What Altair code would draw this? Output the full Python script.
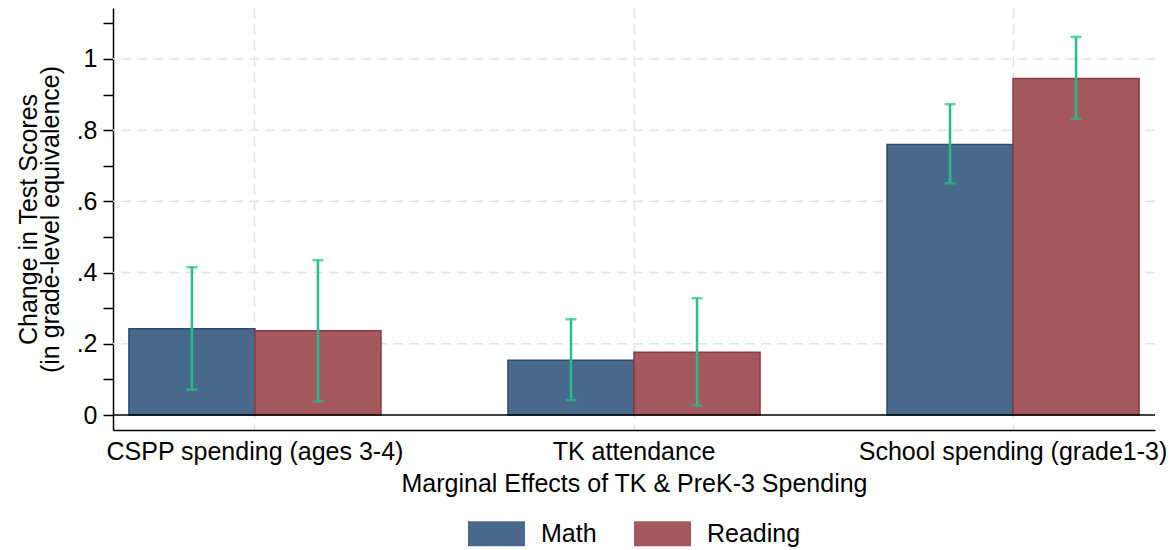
import altair as alt
import pandas as pd

# Marginal effects (grade-level equivalence) with 95% confidence bounds
categories = ["CSPP spending (ages 3-4)", "TK attendance", "School spending (grade1-3)"]
subjects = ["Math", "Reading"]

math_est = [0.242, 0.154, 0.760]
math_lo = [0.071, 0.042, 0.651]
math_hi = [0.415, 0.269, 0.873]

reading_est = [0.237, 0.176, 0.945]
reading_lo = [0.038, 0.027, 0.832]
reading_hi = [0.435, 0.328, 1.062]

grid_values = [0.2, 0.4, 0.6, 0.8, 1.0]
tick_values = [round(i * 0.1, 1) for i in range(12)]

rows = []
for i, cat in enumerate(categories):
    rows.append({"cat": cat, "subject": "Math", "est": math_est[i], "lo": math_lo[i], "hi": math_hi[i]})
    rows.append({"cat": cat, "subject": "Reading", "est": reading_est[i], "lo": reading_lo[i], "hi": reading_hi[i]})
df = pd.DataFrame(rows)
grid_df = pd.DataFrame({"v": grid_values})

FONT = "Liberation Sans"
fill_colors = ["#48698B", "#A3595D"]
edge_colors = ["#2B4C6E", "#8A3B41"]
ci_color = "#22BF8A"

y_scale = alt.Scale(domain=[-0.042, 1.143], nice=False, zero=False)
x_scale = alt.Scale(domain=categories, paddingInner=0.335, paddingOuter=0.042)

x_axis = alt.Axis(
    title="Marginal Effects of TK & PreK-3 Spending",
    labelAngle=0,
    ticks=False,
    grid=True,
)
y_axis = alt.Axis(
    title=["Change in Test Scores", "(in grade-level equivalence)"],
    values=tick_values,
    labelExpr="round(datum.value*10) % 2 == 1 ? '' : (datum.value == 0 ? '0' : (datum.value == 1 ? '1' : replace(format(datum.value, '.1f'), '0.', '.')))",
    grid=False,
)

x_enc = alt.X("cat:N", scale=x_scale, sort=categories, axis=x_axis)
x_off = alt.XOffset("subject:N", sort=subjects)

gridlines = alt.Chart(grid_df).mark_rule(
    color="#E3E3E3", strokeDash=[10, 6], strokeWidth=1.5
).encode(y=alt.Y("v:Q", scale=y_scale, axis=y_axis))

bars = alt.Chart(df).mark_bar(strokeWidth=1.5).encode(
    x=x_enc,
    xOffset=x_off,
    y=alt.Y("est:Q", scale=y_scale, axis=y_axis),
    color=alt.Color(
        "subject:N",
        scale=alt.Scale(domain=subjects, range=fill_colors),
        legend=alt.Legend(
            title=None,
            orient="none",
            direction="horizontal",
            legendX=355,
            legendY=497,
            symbolType="M-1,-0.44H1V0.44H-1Z",
            symbolSize=3249,
            symbolStrokeWidth=0,
            symbolOpacity=1,
            labelOffset=16,
            columnPadding=37,
        ),
    ),
    stroke=alt.Stroke(
        "subject:N", scale=alt.Scale(domain=subjects, range=edge_colors), legend=None
    ),
)

zero_line = alt.Chart(pd.DataFrame({"v": [0.0]})).mark_rule(
    color="#000000", strokeWidth=1.5
).encode(y=alt.Y("v:Q", scale=y_scale, axis=y_axis))

ci_rule = alt.Chart(df).mark_rule(color=ci_color, strokeWidth=2.5).encode(
    x=x_enc,
    xOffset=x_off,
    y=alt.Y("lo:Q", scale=y_scale, axis=y_axis),
    y2="hi:Q",
)

cap_lo = alt.Chart(df).mark_tick(color=ci_color, thickness=2.5, size=11, orient="horizontal").encode(
    x=x_enc,
    xOffset=x_off,
    y=alt.Y("lo:Q", scale=y_scale, axis=y_axis),
)

cap_hi = alt.Chart(df).mark_tick(color=ci_color, thickness=2.5, size=11, orient="horizontal").encode(
    x=x_enc,
    xOffset=x_off,
    y=alt.Y("hi:Q", scale=y_scale, axis=y_axis),
)

chart = (
    alt.layer(gridlines, bars, zero_line, ci_rule, cap_lo, cap_hi)
    .properties(
        width=1042,
        height=422,
        autosize=alt.AutoSizeParams(type="none"),
        padding={"left": 113, "top": 8, "right": 19, "bottom": 120},
        background="#FFFFFF",
    )
    .configure_view(stroke=None)
    .configure_scale(offsetBandPaddingInner=0, offsetBandPaddingOuter=0)
    .configure_axis(
        labelFont=FONT,
        labelFontSize=25,
        labelColor="#000000",
        labelLimit=0,
        labelOverlap=False,
        titleFont=FONT,
        titleFontSize=25,
        titleFontWeight="normal",
        titleColor="#000000",
        domainColor="#000000",
        domainWidth=1.5,
        tickColor="#000000",
        tickWidth=1.5,
    )
    .configure_axisX(
        labelPadding=9,
        titleY=53,
        titleBaseline="middle",
        gridColor="#E3E3E3",
        gridDash=[10, 6],
        gridWidth=1.5,
    )
    .configure_axisY(
        tickSize=10,
        labelPadding=6,
        titleX=-85,
        titleY=211,
        titleBaseline="middle",
        titleLineHeight=22,
    )
    .configure_legend(
        labelFont=FONT,
        labelFontSize=25,
        labelColor="#000000",
    )
)

chart.save("out.html", embed_options={"renderer": "svg", "actions": False})
